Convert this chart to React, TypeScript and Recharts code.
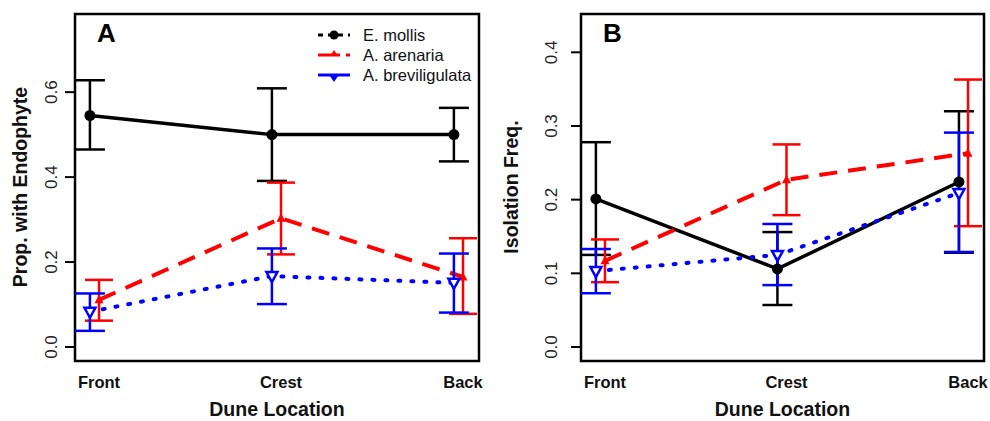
import React from "react";
import { LineChart, Line, XAxis, YAxis, ErrorBar, ReferenceArea, Legend } from "recharts";

const categories = ["Front", "Crest", "Back"];
const positions = [1, 2, 3];

// panel A: proportion with endophyte
const mollisA = [0.545, 0.5, 0.5];
const mollisALo = [0.465, 0.391, 0.437];
const mollisAHi = [0.628, 0.609, 0.563];
const arenariaA = [0.111, 0.303, 0.165];
const arenariaALo = [0.062, 0.218, 0.078];
const arenariaAHi = [0.158, 0.387, 0.256];
const brevA = [0.083, 0.167, 0.151];
const brevALo = [0.038, 0.101, 0.081];
const brevAHi = [0.126, 0.232, 0.22];

// panel B: isolation frequency
const mollisB = [0.201, 0.106, 0.224];
const mollisBLo = [0.125, 0.057, 0.128];
const mollisBHi = [0.278, 0.156, 0.32];
const arenariaB = [0.117, 0.227, 0.263];
const arenariaBLo = [0.088, 0.179, 0.164];
const arenariaBHi = [0.146, 0.275, 0.363];
const brevB = [0.103, 0.125, 0.209];
const brevBLo = [0.073, 0.084, 0.129];
const brevBHi = [0.133, 0.167, 0.291];

const ticksA = [0, 0.2, 0.4, 0.6];
const ticksB = [0, 0.1, 0.2, 0.3, 0.4];

const seriesNames = ["E. mollis", "A. arenaria", "A. breviligulata"];
const offsets = [-0.05, 0, -0.05];

const X_DOMAIN: [number, number] = [0.868, 3.088];

const BLACK = "#000000";
const RED = "#ff0000";
const BLUE = "#0000ff";

function build(vals: number[], lo: number[], hi: number[], off: number) {
  return vals.map((v, i) => ({
    x: positions[i] + off,
    y: v,
    err: [v - lo[i], hi[i] - v],
  }));
}

const Circle = (p: any) => <circle key={p.key} cx={p.cx} cy={p.cy} r={5.5} fill={BLACK} />;
const TriUp = (p: any) => (
  <path key={p.key} d={`M${p.cx},${p.cy - 5} L${p.cx + 4.5},${p.cy + 3.5} L${p.cx - 4.5},${p.cy + 3.5} Z`} fill={RED} />
);
const TriDown = (p: any) => (
  <path
    key={p.key}
    d={`M${p.cx - 5.5},${p.cy - 4} L${p.cx + 5.5},${p.cy - 4} L${p.cx},${p.cy + 6} Z`}
    fill="#ffffff"
    stroke={BLUE}
    strokeWidth={2.5}
  />
);

const makeYTick = (shift: number) => (p: any) => {
  const cx = p.x - shift;
  return (
    <text
      x={cx}
      y={p.y}
      transform={`rotate(-90 ${cx} ${p.y})`}
      textAnchor="middle"
      dominantBaseline="central"
      fontSize={17}
      fill="#222"
    >
      {Number(p.payload.value).toFixed(1)}
    </text>
  );
};

function LegendBox() {
  const rows = [
    { name: seriesNames[0], color: BLACK, dash: "5 5", mark: "circle" },
    { name: seriesNames[1], color: RED, dash: "22 6", mark: "up" },
    { name: seriesNames[2], color: BLUE, dash: "", mark: "down" },
  ];
  return (
    <svg width={180} height={70}>
      {rows.map((r, i) => {
        const y = 12 + i * 20;
        return (
          <g key={r.name}>
            <line x1={8} x2={40} y1={y} y2={y} stroke={r.color} strokeWidth={3} strokeDasharray={r.dash} />
            {r.mark === "circle" && <circle cx={24} cy={y} r={4.5} fill={r.color} />}
            {r.mark === "up" && <path d={`M24,${y - 5} L28,${y + 1} L20,${y + 1} Z`} fill={r.color} />}
            {r.mark === "down" && <path d={`M18.5,${y - 1} L29.5,${y - 1} L24,${y + 7} Z`} fill={r.color} />}
            <text x={53} y={y} dominantBaseline="central" fontSize={16.5} fill="#111">
              {r.name}
            </text>
          </g>
        );
      })}
    </svg>
  );
}

function Panel(props: {
  width: number;
  plotLeft: number;
  plotRight: number;
  domain: [number, number];
  ticks: number[];
  yTitle: string;
  yTitleX: number;
  tickShift: number;
  letter: string;
  sets: any[][];
  legend?: boolean;
}) {
  const { width, plotLeft, plotRight, domain, ticks, yTitle, yTitleX, tickShift, letter, sets, legend } = props;
  const yAxisW = 40;
  const midX = (plotLeft + plotRight) / 2;
  const YTick = makeYTick(tickShift);
  return (
    <LineChart
      width={width}
      height={421}
      margin={{ top: 14, right: width - plotRight, bottom: 30, left: plotLeft - yAxisW }}
    >
      <XAxis
        type="number"
        dataKey="x"
        domain={X_DOMAIN}
        ticks={positions}
        tickFormatter={(v) => categories[Math.round(v) - 1]}
        axisLine={false}
        tickLine={false}
        tickSize={0}
        tickMargin={15}
        height={30}
        allowDataOverflow
        tick={{ fontSize: 16.5, fontWeight: "bold", fill: "#111" }}
      />
      <YAxis
        type="number"
        domain={domain}
        ticks={ticks}
        width={yAxisW}
        axisLine={false}
        tickSize={10}
        tickLine={{ stroke: "#000", strokeWidth: 2 }}
        allowDataOverflow
        tick={<YTick />}
      />
      <ReferenceArea
        x1={X_DOMAIN[0]}
        x2={X_DOMAIN[1]}
        y1={domain[0]}
        y2={domain[1]}
        fill="none"
        fillOpacity={0}
        stroke="#000"
        strokeWidth={2.5}
        ifOverflow="visible"
      />
      <Line
        data={sets[0]}
        dataKey="y"
        stroke={BLACK}
        strokeWidth={3.5}
        dot={Circle}
        activeDot={false}
        isAnimationActive={false}
      >
        <ErrorBar dataKey="err" width={15} stroke={BLACK} strokeWidth={2.5} direction="y" />
      </Line>
      <Line
        data={sets[1]}
        dataKey="y"
        stroke={RED}
        strokeWidth={4}
        strokeDasharray="18 11"
        dot={TriUp}
        activeDot={false}
        isAnimationActive={false}
      >
        <ErrorBar dataKey="err" width={14} stroke={RED} strokeWidth={2.5} direction="y" />
      </Line>
      <Line
        data={sets[2]}
        dataKey="y"
        stroke={BLUE}
        strokeWidth={4}
        strokeDasharray="2 11"
        strokeLinecap="round"
        dot={TriDown}
        activeDot={false}
        isAnimationActive={false}
      >
        <ErrorBar dataKey="err" width={15} stroke={BLUE} strokeWidth={2.5} direction="y" />
      </Line>
      {legend && (
        <Legend
          layout="vertical"
          align="center"
          verticalAlign="middle"
          content={() => <LegendBox />}
          wrapperStyle={{ left: 310, top: 23, width: 180 }}
        />
      )}
      <text x={plotLeft + 22} y={42} fontSize={26} fontWeight="bold" fill="#000">
        {letter}
      </text>
      <text
        x={yTitleX}
        y={187}
        transform={`rotate(-90 ${yTitleX} 187)`}
        textAnchor="middle"
        dominantBaseline="central"
        fontSize={19.5}
        fontWeight="bold"
        fill="#111"
      >
        {yTitle}
      </text>
      <text x={midX} y={416} textAnchor="middle" fontSize={19.5} fontWeight="bold" fill="#111">
        Dune Location
      </text>
    </LineChart>
  );
}

export default function App() {
  const setsA = [
    build(mollisA, mollisALo, mollisAHi, offsets[0]),
    build(arenariaA, arenariaALo, arenariaAHi, offsets[1]),
    build(brevA, brevALo, brevAHi, offsets[2]),
  ];
  const setsB = [
    build(mollisB, mollisBLo, mollisBHi, offsets[0]),
    build(arenariaB, arenariaBLo, arenariaBHi, offsets[1]),
    build(brevB, brevBLo, brevBHi, offsets[2]),
  ];
  return (
    <div
      style={{
        position: "absolute",
        left: 0,
        top: 0,
        width: 990,
        height: 421,
        background: "#fff",
        fontFamily: "'Liberation Sans', Arial, sans-serif",
      }}
    >
      <div style={{ position: "absolute", left: 0, top: 0 }}>
        <Panel
          width={500}
          plotLeft={75}
          plotRight={479}
          domain={[-0.033, 0.784]}
          ticks={ticksA}
          yTitle="Prop. with Endophyte"
          yTitleX={20}
          tickShift={11}
          letter="A"
          sets={setsA}
          legend
        />
      </div>
      <div style={{ position: "absolute", left: 500, top: 0 }}>
        <Panel
          width={490}
          plotLeft={81}
          plotRight={484}
          domain={[-0.019, 0.452]}
          ticks={ticksB}
          yTitle="Isolation Freq."
          yTitleX={11}
          tickShift={17}
          letter="B"
          sets={setsB}
        />
      </div>
    </div>
  );
}
